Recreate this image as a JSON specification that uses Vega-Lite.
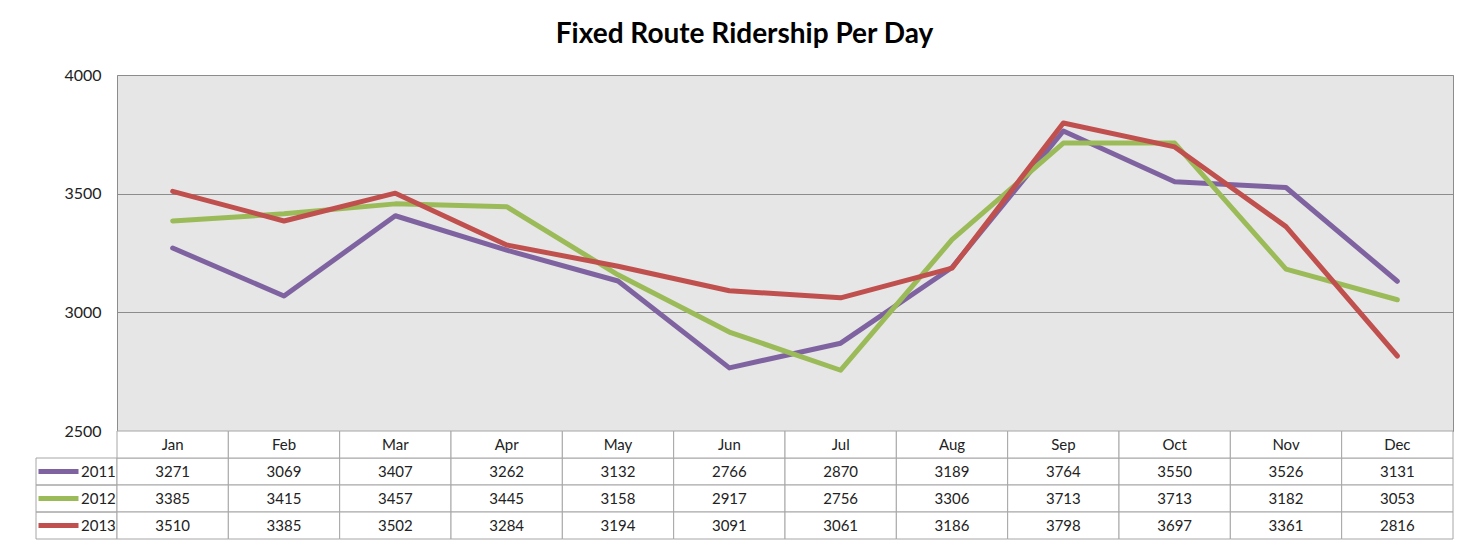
{
  "$schema": "https://vega.github.io/schema/vega-lite/v6.json",
  "background": "white",
  "padding": {"left": 35, "top": 20, "right": 9, "bottom": 6},
  "title": {"text": "Fixed Route Ridership Per Day", "font": "Lato", "fontSize": 28, "fontWeight": "bold", "color": "#000000", "anchor": "middle", "offset": 18},
  "config": {"view": {"stroke": null}, "font": "Lato"},
  "datasets": {
    "rides": [
      {"month": "Jan", "year": "2011", "riders": 3271}, {"month": "Feb", "year": "2011", "riders": 3069}, {"month": "Mar", "year": "2011", "riders": 3407}, {"month": "Apr", "year": "2011", "riders": 3262}, {"month": "May", "year": "2011", "riders": 3132}, {"month": "Jun", "year": "2011", "riders": 2766}, {"month": "Jul", "year": "2011", "riders": 2870}, {"month": "Aug", "year": "2011", "riders": 3189}, {"month": "Sep", "year": "2011", "riders": 3764}, {"month": "Oct", "year": "2011", "riders": 3550}, {"month": "Nov", "year": "2011", "riders": 3526}, {"month": "Dec", "year": "2011", "riders": 3131},
      {"month": "Jan", "year": "2012", "riders": 3385}, {"month": "Feb", "year": "2012", "riders": 3415}, {"month": "Mar", "year": "2012", "riders": 3457}, {"month": "Apr", "year": "2012", "riders": 3445}, {"month": "May", "year": "2012", "riders": 3158}, {"month": "Jun", "year": "2012", "riders": 2917}, {"month": "Jul", "year": "2012", "riders": 2756}, {"month": "Aug", "year": "2012", "riders": 3306}, {"month": "Sep", "year": "2012", "riders": 3713}, {"month": "Oct", "year": "2012", "riders": 3713}, {"month": "Nov", "year": "2012", "riders": 3182}, {"month": "Dec", "year": "2012", "riders": 3053},
      {"month": "Jan", "year": "2013", "riders": 3510}, {"month": "Feb", "year": "2013", "riders": 3385}, {"month": "Mar", "year": "2013", "riders": 3502}, {"month": "Apr", "year": "2013", "riders": 3284}, {"month": "May", "year": "2013", "riders": 3194}, {"month": "Jun", "year": "2013", "riders": 3091}, {"month": "Jul", "year": "2013", "riders": 3061}, {"month": "Aug", "year": "2013", "riders": 3186}, {"month": "Sep", "year": "2013", "riders": 3798}, {"month": "Oct", "year": "2013", "riders": 3697}, {"month": "Nov", "year": "2013", "riders": 3361}, {"month": "Dec", "year": "2013", "riders": 2816}
    ]
  },
  "columns": 2,
  "spacing": 0,
  "bounds": "flush",
  "concat": [
    {
      "width": 81, "height": 356,
      "data": {"values": [{}]},
      "mark": "text",
      "encoding": {"text": {"value": ""}}
    },
    {
      "width": 1336, "height": 356,
      "view": {"fill": "#E6E6E6", "stroke": "#8C8C8C", "strokeWidth": 1},
      "data": {"name": "rides"},
      "mark": {"type": "line", "strokeWidth": 5, "strokeCap": "round", "strokeJoin": "round"},
      "encoding": {
        "x": {"field": "month", "type": "nominal", "sort": null,
              "scale": {"type": "point", "padding": 0.5, "domain": ["Jan","Feb","Mar","Apr","May","Jun","Jul","Aug","Sep","Oct","Nov","Dec"]},
              "axis": null},
        "y": {"field": "riders", "type": "quantitative",
              "scale": {"domain": [2500, 4000], "nice": false, "zero": false},
              "axis": {"values": [2500, 3000, 3500, 4000], "format": "d", "title": null, "grid": true, "gridColor": "#8C8C8C", "gridOpacity": 1, "ticks": false, "domain": false, "labelFont": "Lato", "labelFontSize": 16, "labelColor": "#222222", "labelPadding": 16}},
        "color": {"field": "year", "type": "nominal",
                  "scale": {"domain": ["2011","2012","2013"], "range": ["#7F63A1", "#9BBB59", "#C0504D"]},
                  "legend": {"orient": "none", "legendX": 0, "legendY": 383, "title": null, "symbolType": "stroke", "symbolSize": 1600, "symbolStrokeWidth": 5, "clipHeight": 27, "rowPadding": 0, "labelFont": "Lato", "labelFontSize": 15, "labelColor": "#222222", "labelOffset": 0, "padding": 0, "symbolOffset": 0}}
      }
    },
    {
      "width": 81, "height": 108,
      "data": {"name": "rides"},
      "transform": [{"filter": "datum.month === 'Jan'"}],
      "mark": {"type": "rect", "filled": false, "stroke": "#A6A6A6", "strokeWidth": 1},
      "encoding": {
        "y": {"field": "year", "type": "nominal", "scale": {"domain": ["Month","2011","2012","2013"], "paddingInner": 0, "paddingOuter": 0}, "axis": null}
      }
    },
    {
      "width": 1336, "height": 108,
      "data": {"name": "rides"},
      "encoding": {
        "x": {"field": "month", "type": "nominal", "sort": null,
              "scale": {"type": "band", "paddingInner": 0, "paddingOuter": 0, "domain": ["Jan","Feb","Mar","Apr","May","Jun","Jul","Aug","Sep","Oct","Nov","Dec"]},
              "axis": null}
      },
      "layer": [
        {
          "mark": {"type": "rect", "fill": "white", "stroke": "#A6A6A6", "strokeWidth": 1},
          "encoding": {"y": {"field": "year", "type": "nominal", "scale": {"domain": ["Month","2011","2012","2013"], "paddingInner": 0, "paddingOuter": 0}, "axis": null}}
        },
        {
          "transform": [{"filter": "datum.year === '2011'"}],
          "mark": {"type": "rect", "fill": "white", "stroke": "#A6A6A6", "strokeWidth": 1},
          "encoding": {"y": {"datum": "Month", "type": "nominal"}}
        },
        {
          "mark": {"type": "text", "font": "Lato", "fontSize": 15, "color": "#222222"},
          "encoding": {"y": {"field": "year", "type": "nominal"}, "text": {"field": "riders", "type": "quantitative", "format": "d"}}
        },
        {
          "transform": [{"filter": "datum.year === '2011'"}],
          "mark": {"type": "text", "font": "Lato", "fontSize": 15, "color": "#222222"},
          "encoding": {"y": {"datum": "Month", "type": "nominal"}, "text": {"field": "month", "type": "nominal"}}
        }
      ]
    }
  ]
}
